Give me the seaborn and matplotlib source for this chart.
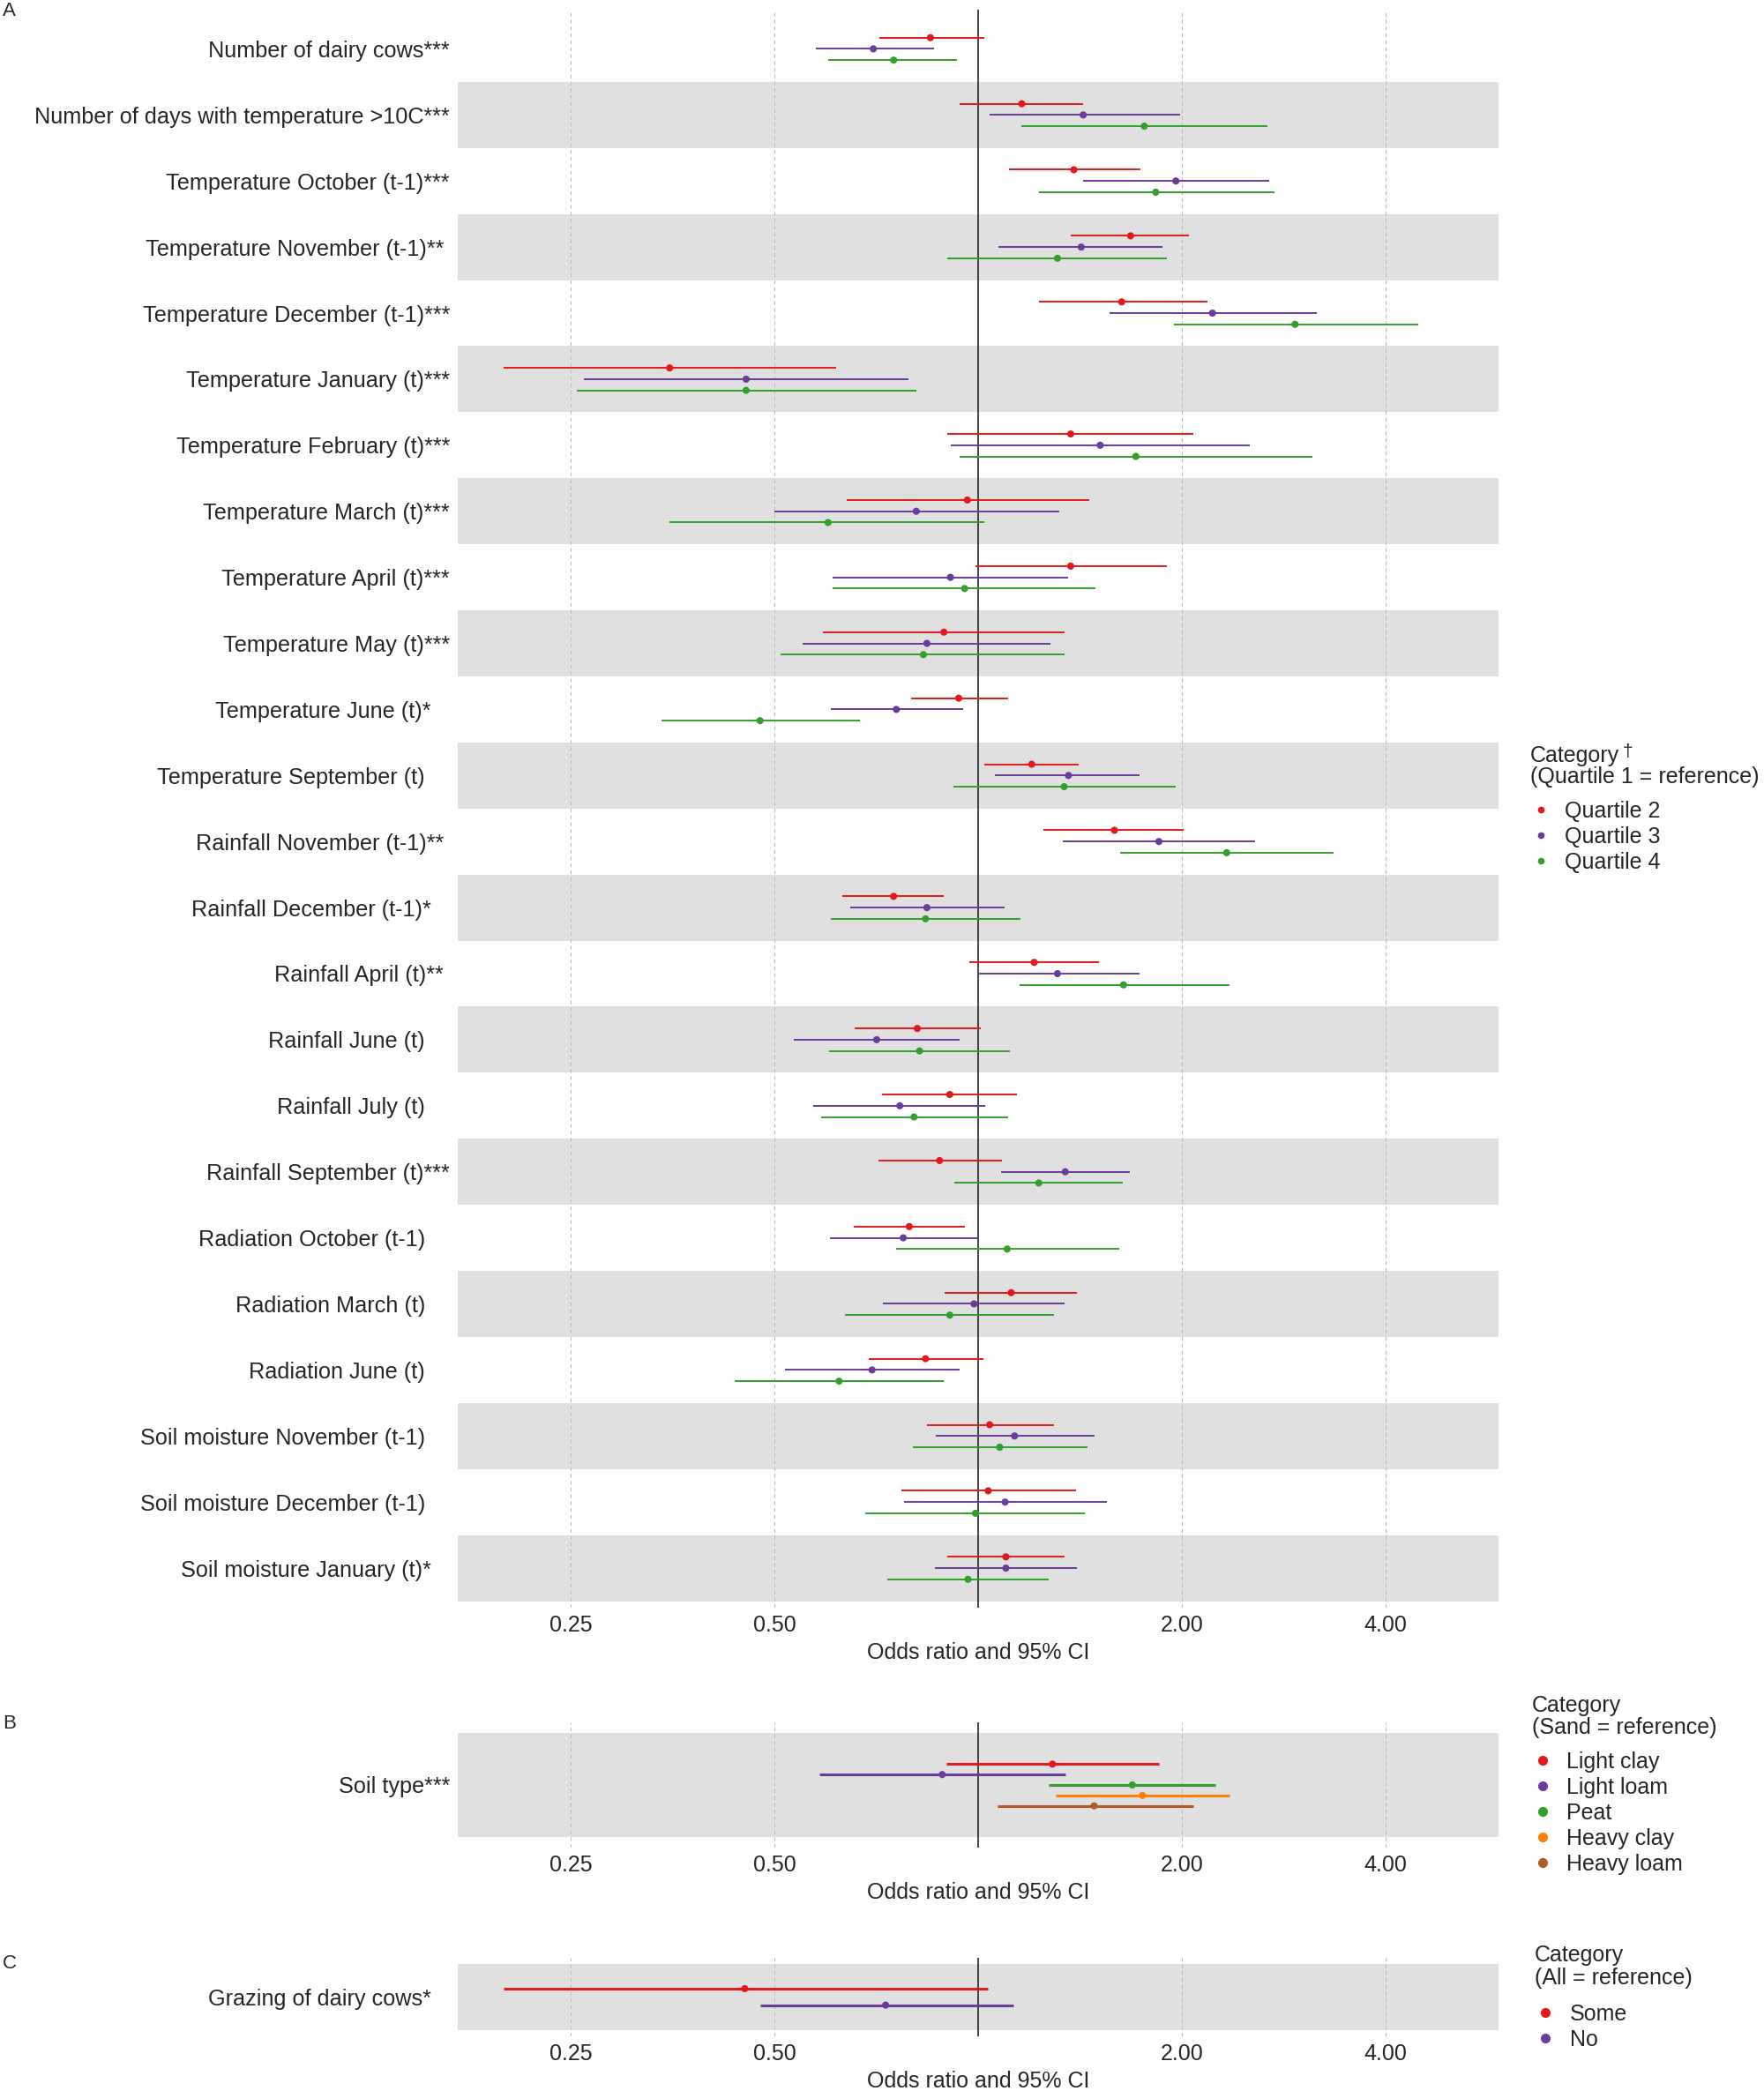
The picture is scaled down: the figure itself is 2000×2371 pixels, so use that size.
import numpy as np
import pandas as pd
import matplotlib
matplotlib.use("Agg")
import matplotlib.pyplot as plt
from matplotlib.lines import Line2D
from matplotlib.ticker import NullLocator
import seaborn as sns

sns.set_style("white")
plt.rcParams['font.family'] = ['Liberation Sans', 'DejaVu Sans']

# ---- Panel A data: odds ratios (OR) with 95% CI, per quartile ----
variables_a = [
    "Number of dairy cows***",
    "Number of days with temperature >10C***",
    "Temperature October (t-1)***",
    "Temperature November (t-1)**",
    "Temperature December (t-1)***",
    "Temperature January (t)***",
    "Temperature February (t)***",
    "Temperature March (t)***",
    "Temperature April (t)***",
    "Temperature May (t)***",
    "Temperature June (t)*",
    "Temperature September (t)",
    "Rainfall November (t-1)**",
    "Rainfall December (t-1)*",
    "Rainfall April (t)**",
    "Rainfall June (t)",
    "Rainfall July (t)",
    "Rainfall September (t)***",
    "Radiation October (t-1)",
    "Radiation March (t)",
    "Radiation June (t)",
    "Soil moisture November (t-1)",
    "Soil moisture December (t-1)",
    "Soil moisture January (t)*",
]

q2_or = [0.85, 1.16, 1.385, 1.68, 1.63, 0.35, 1.37, 0.964, 1.37, 0.89, 0.936, 1.20,
         1.59, 0.75, 1.21, 0.813, 0.908, 0.877, 0.791, 1.119, 0.836, 1.04, 1.035, 1.099]
q2_lo = [0.715, 0.94, 1.11, 1.37, 1.23, 0.199, 0.90, 0.64, 0.99, 0.59, 0.795, 1.02,
         1.25, 0.63, 0.97, 0.656, 0.722, 0.712, 0.654, 0.891, 0.69, 0.84, 0.77, 0.90]
q2_hi = [1.02, 1.43, 1.735, 2.05, 2.18, 0.616, 2.08, 1.46, 1.90, 1.34, 1.106, 1.41,
         2.01, 0.89, 1.51, 1.009, 1.142, 1.084, 0.957, 1.401, 1.018, 1.293, 1.395, 1.342]

q3_or = [0.70, 1.43, 1.96, 1.42, 2.22, 0.454, 1.515, 0.81, 0.91, 0.84, 0.757, 1.36,
         1.85, 0.84, 1.31, 0.708, 0.766, 1.345, 0.775, 0.986, 0.697, 1.132, 1.096, 1.099]
q3_lo = [0.575, 1.04, 1.43, 1.07, 1.565, 0.261, 0.91, 0.50, 0.61, 0.55, 0.605, 1.06,
         1.335, 0.647, 1.0, 0.534, 0.571, 1.081, 0.604, 0.723, 0.518, 0.865, 0.777, 0.863]
q3_hi = [0.86, 1.99, 2.69, 1.875, 3.165, 0.79, 2.52, 1.32, 1.36, 1.28, 0.951, 1.73,
         2.57, 1.094, 1.73, 0.94, 1.025, 1.676, 1.0, 1.342, 0.94, 1.484, 1.55, 1.398]

q4_or = [0.75, 1.76, 1.83, 1.31, 2.94, 0.454, 1.71, 0.60, 0.955, 0.83, 0.476, 1.34,
         2.33, 0.836, 1.64, 0.819, 0.804, 1.229, 1.104, 0.908, 0.623, 1.076, 0.991, 0.966]
q4_lo = [0.60, 1.16, 1.23, 0.90, 1.95, 0.255, 0.94, 0.35, 0.61, 0.51, 0.34, 0.92,
         1.62, 0.605, 1.15, 0.602, 0.586, 0.923, 0.756, 0.636, 0.437, 0.802, 0.681, 0.735]
q4_hi = [0.93, 2.68, 2.74, 1.90, 4.47, 0.81, 3.115, 1.02, 1.49, 1.34, 0.669, 1.96,
         3.35, 1.156, 2.35, 1.114, 1.106, 1.638, 1.616, 1.293, 0.889, 1.45, 1.44, 1.27]

cats_a = ["Quartile 2", "Quartile 3", "Quartile 4"]

# ---- Panel B data: soil type ----
variables_b = ["Soil type***"]
cats_b = ["Light clay", "Light loam", "Peat", "Heavy clay", "Heavy loam"]
soil_or = [1.288, 0.885, 1.690, 1.749, 1.484]
soil_lo = [0.898, 0.583, 1.273, 1.302, 1.067]
soil_hi = [1.853, 1.348, 2.244, 2.349, 2.078]

# ---- Panel C data: grazing ----
variables_c = ["Grazing of dairy cows*"]
cats_c = ["Some", "No"]
graze_or = [0.452, 0.730]
graze_lo = [0.199, 0.476]
graze_hi = [1.035, 1.126]

colors = {
    "Quartile 2": "#E31A1C", "Quartile 3": "#6A3D9A", "Quartile 4": "#33A02C",
    "Light clay": "#E31A1C", "Light loam": "#6A3D9A", "Peat": "#33A02C",
    "Heavy clay": "#FF7F00", "Heavy loam": "#B15928",
    "Some": "#E31A1C", "No": "#6A3D9A",
}

FS = 18
XLIM = (2 ** -2.555, 2 ** 2.555)


def pad_label(s):
    # trailing spaces stand in for the missing significance stars
    n = len(s) - len(s.rstrip("*"))
    return s + " " * int(round(1.4 * (3 - n)))


def long_table(variables, cats, ors, los, his):
    frames = []
    for c, o, l, h in zip(cats, ors, los, his):
        frames.append(pd.DataFrame({"var": variables, "cat": c, "or": o, "lo": l, "hi": h}))
    return pd.concat(frames, ignore_index=True)


def draw_panel(ax, df, variables, cats, step, lw, band_odd):
    n = len(variables)
    row = {v: i + 1 for i, v in enumerate(variables)}
    offs = {c: (k - (len(cats) - 1) / 2) * step for k, c in enumerate(cats)}
    df = df.copy()
    df["y"] = df["var"].map(row) + df["cat"].map(offs)

    ax.set_xscale("log", base=2)
    # alternating grey bands behind the rows
    for i in range(1, n + 1):
        if (i % 2 == 0) or band_odd:
            ax.axhspan(i - 0.5, i + 0.5, color="#E0E0E0", lw=0, zorder=0)
    for t in [0.25, 0.5, 2, 4]:
        ax.axvline(t, color="#BDBDBD", lw=0.8, ls=(0, (4, 3)), zorder=0.5)
    ax.axvline(1, color="#222222", lw=1.2, zorder=1)

    # CI lines + point estimates
    ax.hlines(df["y"], df["lo"], df["hi"], colors=df["cat"].map(colors), lw=lw, zorder=2)
    sns.scatterplot(data=df, x="or", y="y", hue="cat", hue_order=cats,
                    palette=[colors[c] for c in cats], s=34, linewidth=0,
                    legend=False, ax=ax, zorder=3)

    ax.set_xlim(*XLIM)
    ax.set_ylim(n + 0.6, 0.4)
    ax.set_xticks([0.25, 0.5, 2, 4])
    ax.set_xticklabels(["0.25", "0.50", "2.00", "4.00"], fontsize=FS)
    ax.xaxis.set_minor_locator(NullLocator())
    ax.set_yticks(range(1, n + 1))
    ax.set_yticklabels([pad_label(v) for v in variables], fontsize=18.2)
    ax.tick_params(axis="both", length=0)
    ax.tick_params(axis="x", pad=6)
    ax.tick_params(axis="y", pad=6.5)
    ax.set_xlabel("Odds ratio and 95% CI", fontsize=FS, labelpad=4.5)
    ax.set_ylabel("")
    for s in ax.spines.values():
        s.set_visible(False)


def add_legend(fig, title1, title2, cats, x, y_title, gap, y_items, ms, dagger=False):
    t1 = fig.text(x, y_title, title1, fontsize=FS, ha="left", va="top")
    fig.text(x, y_title - gap, title2, fontsize=FS, ha="left", va="top")
    if dagger:
        fig.canvas.draw()
        bb = t1.get_window_extent()
        fig.text((bb.x1 + 3) / W, (bb.y1 + 2) / H, "\u2020", fontsize=15, ha="left", va="top")
    handles = [Line2D([], [], marker="o", ls="", color=colors[c], markersize=ms) for c in cats]
    fig.legend(handles, cats, loc="upper left", bbox_to_anchor=(x + 2 / W, y_items),
               frameon=False, fontsize=FS, handlelength=0.8, handletextpad=0.7,
               labelspacing=0.2, borderpad=0, borderaxespad=0)


W, H = 2000, 2371
fig = plt.figure(figsize=(W / 100, H / 100), dpi=100)

ax_a = fig.add_axes([519 / W, 1 - 1823 / H, 1180 / W, 1812.5 / H])
ax_b = fig.add_axes([519 / W, 1 - 2095 / H, 1180 / W, 142 / H])
ax_c = fig.add_axes([519 / W, 1 - 2309 / H, 1180 / W, 89.5 / H])

df_a = long_table(variables_a, cats_a, [q2_or, q3_or, q4_or], [q2_lo, q3_lo, q4_lo], [q2_hi, q3_hi, q4_hi])
df_b = pd.DataFrame({"var": variables_b[0], "cat": cats_b, "or": soil_or, "lo": soil_lo, "hi": soil_hi})
df_c = pd.DataFrame({"var": variables_c[0], "cat": cats_c, "or": graze_or, "lo": graze_lo, "hi": graze_hi})

draw_panel(ax_a, df_a, variables_a, cats_a, 0.17, 1.4, False)
draw_panel(ax_b, df_b, variables_b, cats_b, 0.10, 2.2, True)
draw_panel(ax_c, df_c, variables_c, cats_c, 0.25, 2.2, True)

fig.text(3 / W, 1 - 12 / H, "A", fontsize=16, va="center")
fig.text(3 / W, 1 - 1955 / H, "B", fontsize=16, va="center")
fig.text(3 / W, 1 - 2226 / H, "C", fontsize=16, va="center")

add_legend(fig, "Category", "(Quartile 1 = reference)", cats_a,
           1735 / W, 1 - 845 / H, 24 / H, 1 - 908 / H, 4.5, dagger=True)
add_legend(fig, "Category", "(Sand = reference)", cats_b,
           1737 / W, 1 - 1922 / H, 25 / H, 1 - 1986 / H, 7)
add_legend(fig, "Category", "(All = reference)", cats_c,
           1740 / W, 1 - 2205 / H, 26 / H, 1 - 2272 / H, 7)

fig.savefig("out.png", dpi=100)
